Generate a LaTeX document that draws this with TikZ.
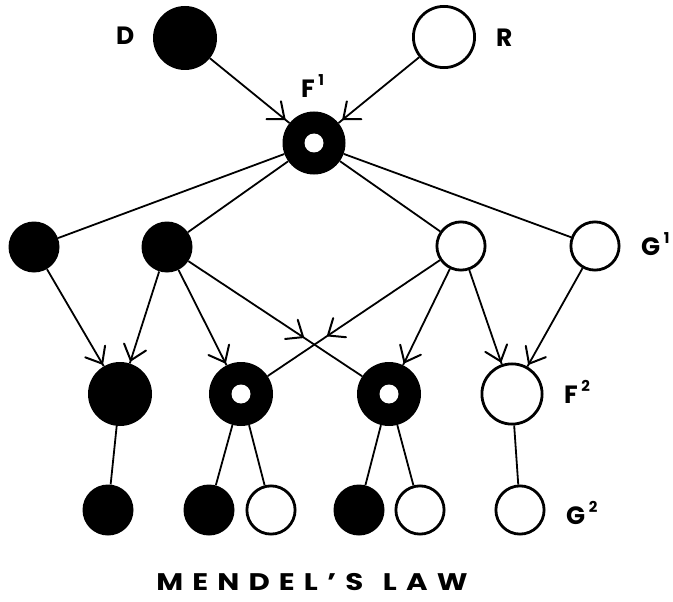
\documentclass[tikz,border=0pt]{standalone}
\usepackage{fontspec}
\setmainfont{Poppins}
\usetikzlibrary{decorations.markings}
\newcommand\mysup[1]{\kern3.5pt\raisebox{12pt}{\fontsize{15}{15}\selectfont\bfseries #1}}
\newcommand\ls{\kern7.5pt}
\begin{document}
\begin{tikzpicture}[x=1pt,y=-1pt,
  blk/.style={circle,fill=black,draw=none,inner sep=0pt,minimum size=#1},
  opn/.style={circle,fill=white,draw=black,line width=2.8pt,inner sep=0pt,minimum size=#1-2.8pt},
  ring/.style={circle,fill=black,draw=none,inner sep=0pt,minimum size=#1,
    path picture={\fill[white] (path picture bounding box.center) circle (9.5pt);}},
  conn/.style={line width=1.8pt},
  arrat/.style={postaction={decorate},decoration={markings,mark=at position #1 with {\draw[line width=2pt,line cap=round,line join=round] (-14pt,11.5pt) -- (0pt,0pt) -- (-14pt,-11.5pt);}}},
  lab/.style={anchor=base west,inner sep=0pt,font=\fontsize{25}{25}\selectfont\bfseries},
  ttl/.style={anchor=base,inner sep=0pt,font=\fontsize{24}{24}\selectfont\bfseries}
]
\useasboundingbox (0,0) rectangle (673,602);
% top row
\node[blk=64pt] (D) at (185,38) {};
\node[opn=64pt] (R) at (444,37) {};
\node[ring=63pt] (F1) at (314,143) {};
% G1 row
\node[blk=51pt] (Ga) at (34,247) {};
\node[blk=51pt] (Gb) at (167,247) {};
\node[opn=51pt] (Gc) at (461,246) {};
\node[opn=51pt] (Gd) at (595,246) {};
% F2 row
\node[blk=64pt] (Fa) at (120,394) {};
\node[ring=64pt] (Fb) at (241,394) {};
\node[ring=64pt] (Fc) at (389,394) {};
\node[opn=63pt] (Fd) at (512,394) {};
% G2 row
\node[blk=51pt] (Ha) at (108,510) {};
\node[blk=51pt] (Hb) at (209,510) {};
\node[opn=51pt] (Hc) at (271,510) {};
\node[blk=51pt] (Hd) at (359,510) {};
\node[opn=51pt] (He) at (420,510) {};
\node[opn=51pt] (Hf) at (520,510) {};
% labels
\node[lab] (lD) at (116,45) {D};
\node[lab] (lR) at (496,47) {R};
\node[lab] (lF1) at (301,98) {F\mysup{1}};
\node[lab] (lG1) at (641,255) {G\mysup{1}};
\node[lab] (lF2) at (564,403) {F\mysup{2}};
\node[lab] (lG2) at (566,524) {G\mysup{2}};
\node[ttl] (title) at (312,590) {\scalebox{1.22}[1]{M\ls E\ls N\ls D\ls E\ls L\ls ’\ls S\hspace{16pt}L\ls A\ls W}};
% connectors
\draw[conn,arrat=-6pt] (D) -- (F1);
\draw[conn,arrat=-6pt] (R) -- (F1);
\draw[conn] (F1) -- (Ga);
\draw[conn] (F1) -- (Gb);
\draw[conn] (F1) -- (Gc);
\draw[conn] (F1) -- (Gd);
\draw[conn,arrat=-3pt] (Ga) -- (Fa);
\draw[conn,arrat=-3pt] (Gb) -- (Fa);
\draw[conn,arrat=-3pt] (Gb) -- (Fb);
\draw[conn,arrat=0.66] (Gb) -- (Fc);
\draw[conn,arrat=0.65] (Gc) -- (Fb);
\draw[conn,arrat=-3pt] (Gc) -- (Fc);
\draw[conn,arrat=-3pt] (Gc) -- (Fd);
\draw[conn,arrat=-3pt] (Gd) -- (Fd);
\draw[conn] (Fa) -- (Ha);
\draw[conn] (Fb) -- (Hb);
\draw[conn] (Fb) -- (Hc);
\draw[conn] (Fc) -- (Hd);
\draw[conn] (Fc) -- (He);
\draw[conn] (Fd) -- (Hf);
\end{tikzpicture}
\end{document}
